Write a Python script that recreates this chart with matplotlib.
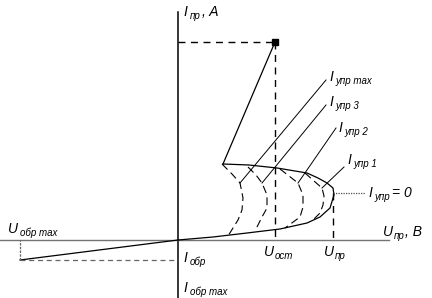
import matplotlib
matplotlib.use("Agg")
import matplotlib.pyplot as plt

# forward characteristic, I_упр = 0 (U, I in drawing units)
fwd_U = [0, 35, 69, 102, 129, 142, 152, 156, 155, 149, 140, 129, 99, 71, 45]
fwd_I = [0, 3, 7, 11, 17, 23, 32, 45, 52, 57, 62, 67, 72, 75, 76]
# on-state branch
on_U = [45, 97]
on_I = [76, 198]
# reverse branch
rev_U = [0, -158]
rev_I = [0, -20]

# family of curves for gate currents
fam_names = ["max", "3", "2", "1"]
fam_U = [
    [44, 54, 62, 65, 64, 60, 50],
    [70, 78, 84, 89, 89, 84, 77],
    [102, 111, 120, 125, 125, 122, 107],
    [127, 136, 144, 146, 145, 142, 134],
]
fam_I = [
    [76, 66, 57, 42, 30, 20, 4],
    [73, 65, 57, 45, 32, 23, 9],
    [71, 64, 57, 45, 33, 23, 12],
    [67, 59, 52, 44, 35, 27, 19],
]
# leader lines: from the curve vertex to the label
lead_U = [(62, 148), (84, 148), (120, 158), (144, 166)]
lead_I = [(57, 160), (57, 135), (57, 112), (52, 73)]
lab_U = [151, 151, 160, 169]
lab_I = [163, 138, 112, 80]

U_ost, I_max = 97, 198
U_br, I_br = 155, 47
U_rmax, I_rmax = -158, -20

fig = plt.figure(figsize=(4.32, 2.98), dpi=100)
ax = fig.add_axes([0, 0, 1, 1])
ax.set_xlim(-178, 254)
ax.set_ylim(-58, 240)
ax.axis("off")

# axes
ax.plot([0, 0], [-58, 228], color="black", lw=1.1)
ax.plot([-178, 211], [0, 0], color="0.45", lw=1.0)

ax.plot(fwd_U, fwd_I, color="black", lw=0.9)
ax.plot(on_U, on_I, color="black", lw=0.9)
ax.plot(rev_U, rev_I, color="black", lw=0.9)

dash = dict(color="black", lw=1.0, dashes=(5, 4))
ax.plot([0, U_ost], [I_max, I_max], **dash)
ax.plot([U_ost, U_ost], [I_max, 0], **dash)
ax.plot([U_br, U_br], [I_br, 0], **dash)
ax.plot([U_rmax, 0], [I_rmax, I_rmax], color="0.4", lw=0.9, dashes=(4, 3))
ax.plot([U_rmax, U_rmax], [I_rmax, 0], color="0.4", lw=0.9, dashes=(2, 1))
ax.plot([U_br, U_br + 32], [I_br, I_br], color="0.3", lw=0.9, dashes=(1, 1))
ax.plot([U_ost], [I_max], marker="s", color="black", ms=4)

for u, i in zip(fam_U, fam_I):
    ax.plot(u, i, color="black", lw=0.8, dashes=(7, 4))
for u, i in zip(lead_U, lead_I):
    ax.plot(u, i, color="black", lw=0.7)


def label(x, y, main, sub, dx=6, size=10, subsize=7):
    ax.text(x, y, main, fontsize=size, style="italic", family="Liberation Sans",
            va="center", ha="left")
    ax.annotate(sub, (x, y), xytext=(dx, -3), textcoords="offset points",
                fontsize=subsize, style="italic", family="Liberation Sans",
                va="center", ha="left")


for n, x, y in zip(fam_names, lab_U, lab_I):
    label(x, y, "I", "упр " + n, dx=5)
label(190, 47, "I", "упр", dx=5)
ax.text(214, 47, "= 0", fontsize=10, style="italic", family="Liberation Sans",
        va="center", ha="left")
label(5, 228, "I", "пр", dx=5)
ax.text(24, 228, ", A", fontsize=10, style="italic", family="Liberation Sans",
        va="center", ha="left")
label(205, 8, "U", "пр", dx=8)
ax.text(227, 8, ", B", fontsize=10, style="italic", family="Liberation Sans",
        va="center", ha="left")
label(-170, 11, "U", "обр max", dx=9)
label(5, -18, "I", "обр", dx=5)
label(5, -48, "I", "обр max", dx=5)
label(86, -12, "U", "ост", dx=8)
label(146, -12, "U", "пр", dx=8)

fig.savefig("out.png", dpi=100)
